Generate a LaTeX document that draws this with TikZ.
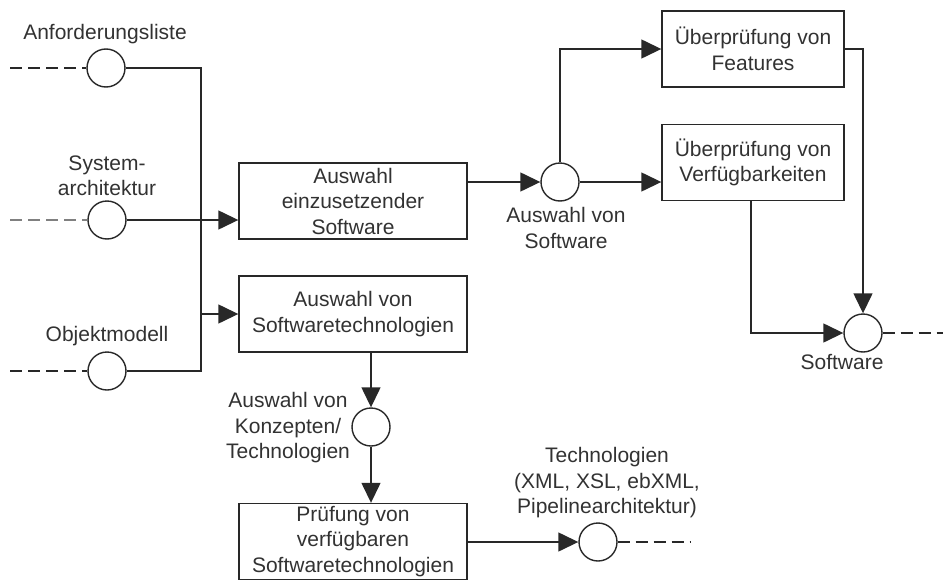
\documentclass[tikz,border=0pt]{standalone}
\usepackage{fontspec}
\setmainfont{Liberation Sans}
\usetikzlibrary{arrows.meta}
\definecolor{ink}{RGB}{40,40,40}
\definecolor{txt}{RGB}{50,50,50}
\begin{document}
\begin{tikzpicture}[x=1pt,y=-1pt,
  every node/.style={font=\fontsize{21}{25.5}\selectfont, inner sep=0pt, text=txt},
  box/.style={draw=ink, line width=1.4pt, rectangle, align=center, minimum height=76pt},
  state/.style={draw=ink, line width=1.4pt, circle, minimum size=38pt},
  lbl/.style={align=center},
  flow/.style={ink, line width=1.4pt, -{Triangle[length=20pt,width=19pt]}},
  link/.style={ink, line width=1.4pt},
  open/.style={ink, line width=1.4pt, dash pattern=on 12pt off 6pt}]
\useasboundingbox (0,0) rectangle (943,581);

% input states on the left
\node[state] (req) at (106,68) {};
\node[state] (arch) at (107,220) {};
\node[state] (obj) at (107,371) {};
\node[lbl] at (105,34) {Anforderungsliste};
\node[lbl] at (107,176) {System-\\architektur};
\node[lbl] at (107,336) {Objektmodell};

% activities
\node[box, minimum width=228pt] (selsw) at (353,201) {Auswahl\\einzusetzender\\Software};
\node[box, minimum width=228pt] (seltech) at (353,314) {Auswahl von\\Softwaretechnologien};
\node[box, minimum width=182pt] (feat) at (753,49) {Überprüfung von\\Features};
\node[box, minimum width=182pt] (avail) at (753,162.5) {Überprüfung von\\Verfügbarkeiten};
\node[box, minimum width=228pt] (check) at (353,541.5) {Prüfung von\\verfügbaren\\Softwaretechnologien};

% intermediate and output states
\node[state] (swsel) at (560,182) {};
\node[lbl] at (566,228) {Auswahl von\\Software};
\node[state] (sw) at (863,333) {};
\node[lbl] at (842,362) {Software};
\node[state] (konz) at (371,427) {};
\node[lbl] at (288,428) {Auswahl von\\Konzepten/\\Technologien};
\node[state] (tech) at (598,542) {};
\node[lbl] at (607,483) {Technologien\\(XML, XSL, ebXML,\\Pipelinearchitektur)};

% loose ends
\coordinate (reqIn) at (10,68);
\coordinate (archIn) at (10,220);
\coordinate (objIn) at (10,371);
\coordinate (swOut) at (943,333);
\coordinate (techOut) at (690,542);
\coordinate (busT) at (201,68);
\coordinate (busB) at (201,371);
\coordinate (busM) at (201,314);

\draw[open] (reqIn) -- (req.west);
\draw[open, gray] (archIn) -- (arch.west);
\draw[open] (objIn) -- (obj.west);
\draw[open] (sw.east) -- (swOut);
\draw[open] (tech.east) -- (techOut);

% collecting line of the inputs
\draw[link] (req.east) -- (busT) -- (busB) -- (obj.east);
\draw[flow] (arch.east) -- (arch.east -| selsw.west);
\draw[flow] (busM) -- (seltech.west);

% software selection branch
\draw[flow] (swsel.west -| selsw.east) -- (swsel.west);
\draw[flow] (swsel.north) |- (feat.west);
\draw[flow] (swsel.east) -- (swsel.east -| avail.west);
\draw[flow] (feat.east) -| (sw.north);
\draw[flow] ([xshift=-2pt]avail.south) |- (sw.west);

% technology branch
\draw[flow] (konz.north |- seltech.south) -- (konz.north);
\draw[flow] (konz.south) -- (konz.south |- check.north);
\draw[flow] (check.east |- tech.west) -- (tech.west);
\end{tikzpicture}
\end{document}
